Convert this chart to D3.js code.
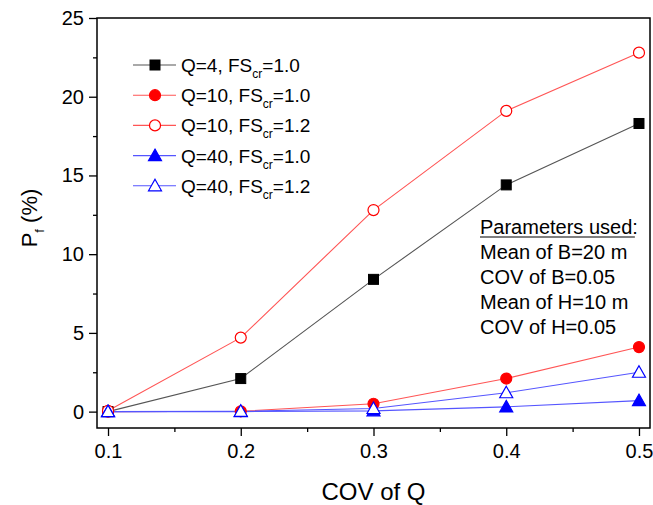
<!DOCTYPE html>
<html>
<head>
<meta charset="utf-8">
<script src="https://cdn.jsdelivr.net/npm/d3@7"></script>
<style>
  body { margin: 0; background: #fff; }
  text { font-family: Arial, "Liberation Sans", sans-serif; fill: #000; }
</style>
</head>
<body>
<svg id="chart"></svg>
<script>
// data
const covQ = [0.1, 0.2, 0.3, 0.4, 0.5];
const q4fs10 = [0, 2.1, 8.4, 14.4, 18.3];
const q10fs10 = [0, 0.02, 0.5, 2.1, 4.1];
const q10fs12 = [0.05, 4.7, 12.8, 19.1, 22.8];
const q40fs10 = [0, 0, 0.05, 0.3, 0.7];
const q40fs12 = [0, 0.02, 0.2, 1.2, 2.5];
const xTicks = [0.1, 0.2, 0.3, 0.4, 0.5];
const yTicks = [0, 5, 10, 15, 20, 25];
const params = ['Mean of B=20 m', 'COV of B=0.05', 'Mean of H=10 m', 'COV of H=0.05'];

const series = [
    {q: 'Q=4', fs: '1.0', values: q4fs10, line: '#555', color: '#000', shape: 'square', filled: true},
    {q: 'Q=10', fs: '1.0', values: q10fs10, line: '#ff5555', color: '#ff0000', shape: 'circle', filled: true},
    {q: 'Q=10', fs: '1.2', values: q10fs12, line: '#ff5555', color: '#ff0000', shape: 'circle', filled: false},
    {q: 'Q=40', fs: '1.0', values: q40fs10, line: '#5555ff', color: '#0000ff', shape: 'triangle', filled: true},
    {q: 'Q=40', fs: '1.2', values: q40fs12, line: '#5555ff', color: '#0000ff', shape: 'triangle', filled: false}
];

const width = 653, height = 505;
const margin = {top: 18, right: 3, bottom: 77, left: 97};
const iw = width - margin.left - margin.right;
const ih = height - margin.top - margin.bottom;

const svg = d3.select('#chart').attr('width', width).attr('height', height);
const chart = svg.append('g').attr('transform', `translate(${margin.left}, ${margin.top})`);

const xscale = d3.scaleLinear().domain([0.0917, 0.5083]).range([0, iw]);
const yscale = d3.scaleLinear().domain([-1.04, 25]).range([ih, 0]);

// minor ticks
const xMinor = [0.15, 0.25, 0.35, 0.45];
const yMinor = [2.5, 7.5, 12.5, 17.5, 22.5];

const xaxis = d3.axisBottom(xscale).tickValues(xTicks).tickFormat(d3.format('.1f')).tickSize(8).tickPadding(8);
const yaxis = d3.axisLeft(yscale).tickValues(yTicks).tickFormat(d3.format('d')).tickSize(8).tickPadding(5);

const xg = chart.append('g').attr('transform', `translate(0, ${ih})`).call(xaxis);
const yg = chart.append('g').call(yaxis);
chart.append('g').attr('transform', `translate(0, ${ih})`)
    .call(d3.axisBottom(xscale).tickValues(xMinor).tickFormat('').tickSize(4));
chart.append('g')
    .call(d3.axisLeft(yscale).tickValues(yMinor).tickFormat('').tickSize(4));

chart.selectAll('.domain').remove();
chart.selectAll('.tick line').attr('stroke', '#000').attr('stroke-width', 1.3);
[xg, yg].forEach(g => g.selectAll('text').style('font-size', '20px').style('font-family', 'Arial, "Liberation Sans", sans-serif'));

chart.append('rect')
    .attr('width', iw).attr('height', ih)
    .attr('fill', 'none').attr('stroke', '#000').attr('stroke-width', 1.5);

function drawMarker(g, s, x, y) {
    const fill = s.filled ? s.color : '#fff';
    if (s.shape === 'square') {
        g.append('rect').attr('x', x - 5).attr('y', y - 5).attr('width', 10).attr('height', 10)
            .attr('fill', fill).attr('stroke', s.color);
    } else if (s.shape === 'circle') {
        g.append('circle').attr('cx', x).attr('cy', y).attr('r', 5.5)
            .attr('fill', fill).attr('stroke', s.color).attr('stroke-width', 1.2);
    } else {
        g.append('path').attr('d', `M${x},${y - 6.5}L${x + 6.5},${y + 5}L${x - 6.5},${y + 5}Z`)
            .attr('fill', fill).attr('stroke', s.color).attr('stroke-width', 1.2);
    }
}

const line = d3.line()
    .x((d, i) => xscale(covQ[i]))
    .y(d => yscale(d));

series.forEach(s => {
    chart.append('path')
        .attr('d', line(s.values))
        .attr('fill', 'none')
        .attr('stroke', s.line)
        .attr('stroke-width', 1.1);
});
series.forEach(s => {
    const g = chart.append('g');
    s.values.forEach((v, i) => drawMarker(g, s, xscale(covQ[i]), yscale(v)));
});

// legend
const legend = svg.append('g').attr('transform', 'translate(133, 65)');
series.forEach((s, i) => {
    const y = i * 30.2;
    const g = legend.append('g').attr('transform', `translate(0, ${y})`);
    g.append('line').attr('x1', 0).attr('x2', 43).attr('y1', 0).attr('y2', 0)
        .attr('stroke', s.line).attr('stroke-width', 1.1);
    drawMarker(g, s, 22, 0);
    const t = g.append('text').attr('x', 48).attr('y', 7).style('font-size', '19px');
    t.append('tspan').text(`${s.q}, FS`);
    t.append('tspan').attr('dy', 6).style('font-size', '12px').text('cr');
    t.append('tspan').attr('dy', -6).text(`=${s.fs}`);
});

// parameters box
const pg = svg.append('g').attr('transform', 'translate(480, 234)');
const title = pg.append('text').attr('x', 0).attr('y', 0).style('font-size', '20px').text('Parameters used:');
const tw = title.node().getComputedTextLength();
pg.append('line').attr('x1', 0).attr('x2', tw - 3).attr('y1', 3).attr('y2', 3)
    .attr('stroke', '#000').attr('stroke-width', 1.2);
params.forEach((p, i) => {
    pg.append('text').attr('x', 0).attr('y', 25 * (i + 1)).style('font-size', '20px').text(p);
});

// axis titles
svg.append('text')
    .attr('x', margin.left + iw / 2).attr('y', 500)
    .attr('text-anchor', 'middle').style('font-size', '24px').text('COV of Q');

const yt = svg.append('text')
    .attr('transform', `translate(37, 218) rotate(-90)`)
    .attr('text-anchor', 'middle').style('font-size', '22px');
yt.append('tspan').text('P');
yt.append('tspan').attr('dy', 7).style('font-size', '13px').text('f');
yt.append('tspan').attr('dy', -7).text(' (%)');
</script>
</body>
</html>
